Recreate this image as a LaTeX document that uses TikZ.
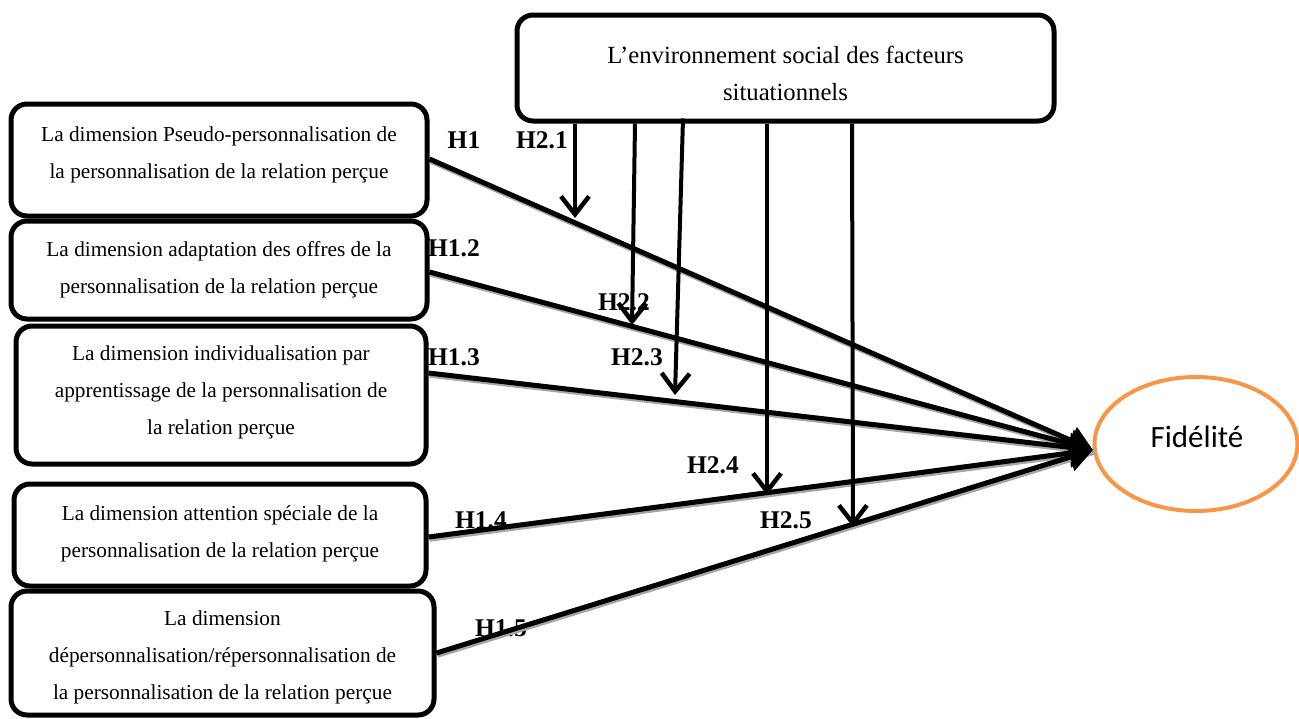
\documentclass[tikz,border=0pt]{standalone}
\usepackage{fontspec}
\setmainfont{Liberation Serif}
\newfontfamily\carlitofont{Carlito}
\usetikzlibrary{arrows.meta,shapes.geometric}
\definecolor{fidorange}{HTML}{F79646}
\begin{document}
\begin{tikzpicture}[x=1pt,y=-1pt,
  box/.style={draw=black, line width=5pt, rounded corners=16pt, fill=white, inner sep=0pt},
  boxtext/.style={align=center, font=\fontsize{21.3pt}{37pt}\selectfont, inner sep=0pt},
  toptext/.style={align=center, font=\fontsize{24.7pt}{37pt}\selectfont, inner sep=0pt},
  hlab/.style={font=\fontsize{25.5pt}{30pt}\selectfont\bfseries, inner sep=0pt},
  mainarrow/.style={line width=5pt, -{Triangle[length=24pt,width=28pt]},
    preaction={draw=black!35, line width=5pt, -, transform canvas={shift={(1.2pt,-2.2pt)}}}},
  modarrow/.style={line width=4pt, -{Straight Barb[length=18pt,width=28pt,line width=4.5pt]}}
]
\useasboundingbox (0,0) rectangle (1299,718);

% top box
\node[box, minimum width=537pt, minimum height=106pt] (top) at (785.5,68) {};
\node[toptext] (toptxt) at (785.5,73) {L’environnement social des facteurs\\situationnels};

% left boxes
\node[box, minimum width=416pt, minimum height=112pt] (b1) at (219,160) {};
\node[box, minimum width=416pt, minimum height=98pt] (b2) at (219,270) {};
\node[box, minimum width=410pt, minimum height=138pt] (b3) at (221,395) {};
\node[box, minimum width=412pt, minimum height=102pt] (b4) at (220,535) {};
\node[box, minimum width=423pt, minimum height=124pt] (b5) at (222.5,653) {};

\node[boxtext] (t1) at (219,155) {La dimension Pseudo-personnalisation de\\la personnalisation de la relation perçue};
\node[boxtext] (t2) at (219,270) {La dimension adaptation des offres de la\\personnalisation de la relation perçue};
\node[boxtext] (t3) at (221,392) {La dimension individualisation par\\apprentissage de la personnalisation de\\la relation perçue};
\node[boxtext] (t4) at (220,534) {La dimension attention spéciale de la\\personnalisation de la relation perçue};
\node[boxtext] (t5) at (222.5,657) {La dimension\\dépersonnalisation/répersonnalisation de\\la personnalisation de la relation perçue};

% Fidelite
\node[ellipse, draw=fidorange, line width=4pt, minimum width=203pt, minimum height=134pt, inner sep=0pt] (fid) at (1196,444) {};
\node[font=\carlitofont\fontsize{31pt}{36pt}\selectfont, inner sep=0pt] (fidtxt) at (1197,437) {Fidélité};

% labels
\node[hlab] (h1) at (464,140) {H1};
\node[hlab] (h21) at (542,140) {H2.1};
\node[hlab] (h12) at (454,248) {H1.2};
\node[hlab] (h22) at (624,302) {H2.2};
\node[hlab] (h13) at (454,357) {H1.3};
\node[hlab] (h23) at (637,357) {H2.3};
\node[hlab] (h24) at (713,465) {H2.4};
\node[hlab] (h14) at (481,520) {H1.4};
\node[hlab] (h25) at (786,520) {H2.5};
\node[hlab] (h15) at (501,628) {H1.5};

% main connectors
\coordinate (tip) at (1093,450);
\draw[mainarrow] ([yshift=1pt]b1.east) -- (tip);
\draw[mainarrow] ([yshift=-2pt]b2.east) -- (tip);
\draw[mainarrow] ([yshift=22pt]b3.east) -- (tip);
\draw[mainarrow] ([yshift=-2pt]b4.east) -- (tip);
\draw[mainarrow] (b5.east) -- (tip);

% moderator arrows
\coordinate (v1) at (575,218);
\coordinate (v2) at (632,325);
\coordinate (v3) at (675,395);
\coordinate (v4) at (767,495);
\coordinate (v5) at (853,527);
\draw[modarrow] (top.south -| v1) -- (v1);
\draw[modarrow] ([xshift=3pt]top.south -| v2) -- (v2);
\draw[modarrow] ([xshift=8pt,yshift=5pt]top.south -| v3) -- (v3);
\draw[modarrow] (top.south -| v4) -- (v4);
\draw[modarrow] ([xshift=-1pt]top.south -| v5) -- (v5);
\end{tikzpicture}
\end{document}
